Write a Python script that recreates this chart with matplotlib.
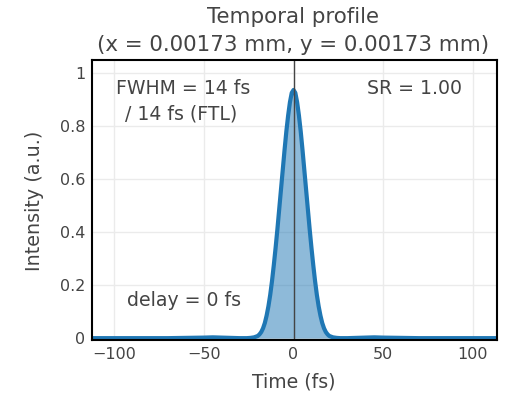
import matplotlib
matplotlib.use("Agg")
import matplotlib.pyplot as plt
from matplotlib.ticker import FixedLocator, FuncFormatter

# Data
time_fs = [-113, -70, -60, -50, -45, -40, -30, -26, -24, -22, -20, -19, -18, -17, -16, -15, -14,
           -13, -12, -11, -10, -9, -8, -7, -6, -5, -4, -3, -2, -1, 0,
           1, 2, 3, 4, 5, 6, 7, 8, 9, 10, 11, 12, 13, 14, 15, 16, 17, 18, 19, 20,
           22, 24, 26, 30, 40, 45, 50, 60, 70, 113]
intensity = [0.0, 0.0, 0.001, 0.002, 0.003, 0.002, 0.0, 0.0, 0.001, 0.003, 0.008, 0.014, 0.023,
             0.037, 0.057, 0.085, 0.12, 0.163, 0.215, 0.275, 0.34, 0.41, 0.485, 0.56, 0.635,
             0.71, 0.78, 0.84, 0.89, 0.925, 0.936,
             0.925, 0.89, 0.84, 0.78, 0.71, 0.635, 0.56, 0.485, 0.41, 0.34, 0.275, 0.215, 0.163,
             0.12, 0.085, 0.057, 0.037, 0.023, 0.014, 0.008,
             0.003, 0.001, 0.0, 0.0, 0.002, 0.003, 0.002, 0.001, 0.0, 0.0]
x_ticks = [-100, -50, 0, 50, 100]
y_ticks = [0, 0.2, 0.4, 0.6, 0.8, 1.0]
title_lines = ["Temporal profile", "(x = 0.00173 mm, y = 0.00173 mm)"]
fwhm_lines = ["FWHM = 14 fs", "/ 14 fs (FTL)"]
sr_text = "SR = 1.00"
delay_text = "delay = 0 fs"

text_color = "#444444"
line_color = "#1f77b4"

W, H = 508, 395
fig = plt.figure(figsize=(W / 100, H / 100), dpi=100)
ax_l, ax_r, ax_t, ax_b = 92, 496.5, 60, 340
ax = fig.add_axes([ax_l / W, 1 - ax_b / H, (ax_r - ax_l) / W, (ax_b - ax_t) / H])

ax.fill_between(time_fs, intensity, 0, color=line_color, alpha=0.5, linewidth=0, zorder=2)
ax.plot(time_fs, intensity, color=line_color, linewidth=3, zorder=3,
        solid_joinstyle="round", solid_capstyle="round")
ax.axvline(0, color="#444444", linewidth=1, zorder=4)

ax.set_xlim(-112.3, 113.1)
ax.set_ylim(-0.007, 1.049)
ax.xaxis.set_major_locator(FixedLocator(x_ticks))
ax.yaxis.set_major_locator(FixedLocator(y_ticks))
ax.yaxis.set_major_formatter(FuncFormatter(lambda v, p: f"{v:g}"))
ax.xaxis.set_major_formatter(FuncFormatter(lambda v, p: f"{int(v)}".replace("-", "\u2212")))
ax.grid(True, color="#ebebeb", linewidth=1, zorder=0)
ax.set_axisbelow(True)
ax.tick_params(length=0, labelsize=11.5, colors=text_color, pad=5)
for s in ax.spines.values():
    s.set_color("black")
    s.set_linewidth(1.5)
    s.set_zorder(5)

fig.text(294 / W, 1 - 382 / H, "Time (fs)", ha="center", va="center", fontsize=13.6, color=text_color)
fig.text(34 / W, 1 - 201 / H, "Intensity (a.u.)", ha="center", va="center", fontsize=13.8,
         color=text_color, rotation=90)

fig.text(293 / W, 1 - 17 / H, title_lines[0], ha="center", va="center", fontsize=15.4, color=text_color)
fig.text(293 / W, 1 - 45 / H, title_lines[1], ha="center", va="center", fontsize=15.4, color=text_color)

def axfrac(px, py):
    return ((px - ax_l) / (ax_r - ax_l), (ax_b - py) / (ax_b - ax_t))

ax.text(*axfrac(116, 88), fwhm_lines[0], transform=ax.transAxes, ha="left", va="center",
        fontsize=13.6, color=text_color)
ax.text(*axfrac(125, 114), fwhm_lines[1], transform=ax.transAxes, ha="left", va="center",
        fontsize=13.6, color=text_color)
ax.text(*axfrac(367, 88), sr_text, transform=ax.transAxes, ha="left", va="center",
        fontsize=13.6, color=text_color)
ax.text(*axfrac(127, 301), delay_text, transform=ax.transAxes, ha="left", va="center",
        fontsize=13.6, color=text_color)

fig.savefig("out.png", dpi=100)
